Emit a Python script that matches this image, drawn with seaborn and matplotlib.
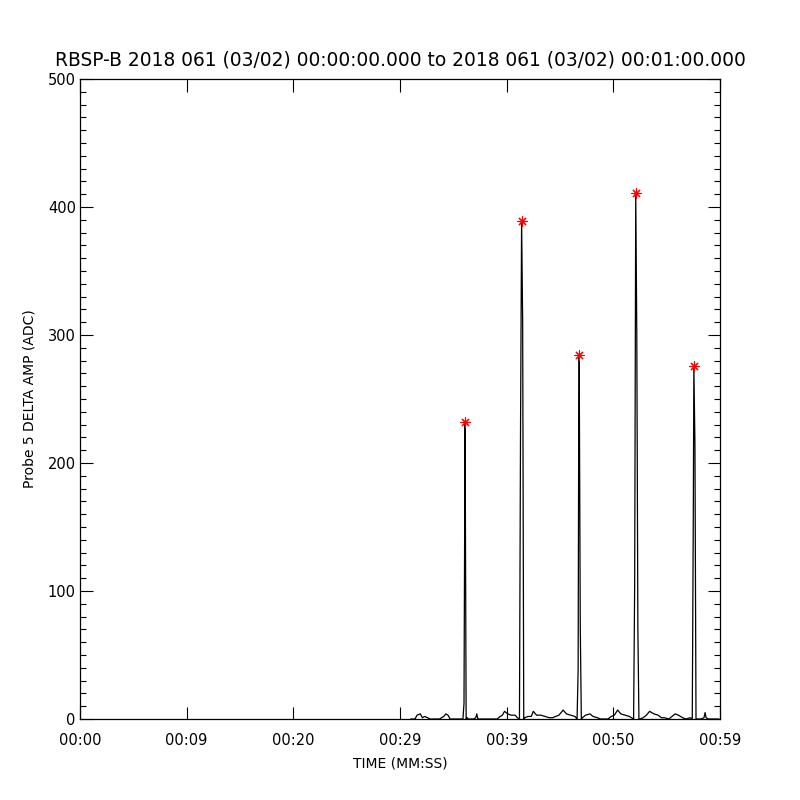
import matplotlib
matplotlib.use("Agg")
import matplotlib.pyplot as plt
import matplotlib.ticker as ticker
import numpy as np
import pandas as pd
import seaborn as sns

# seconds after 00:00:00 and delta amplitude (ADC)
time_s = [
    31.0, 31.4, 31.6, 31.9, 32.1, 32.3, 32.6, 32.8,
    33.7, 33.9, 34.1, 34.3, 34.5, 34.7,
    35.9, 36.0, 36.05, 36.1, 36.2, 36.3, 36.4,
    36.9, 37.1, 37.2, 37.3,
    39.1, 39.4, 39.6, 39.8, 40.1, 40.4, 40.8, 41.0, 41.2,
    41.3, 41.4, 41.5, 41.6,
    41.7, 42.0, 42.3, 42.5, 42.8, 43.2, 43.6, 44.0, 44.3, 44.6,
    44.9, 45.3, 45.6, 46.0, 46.4, 46.6,
    46.7, 46.75, 46.8, 46.9, 47.0,
    47.1, 47.4, 47.8, 48.1, 48.5, 48.8,
    49.5, 49.8, 50.1, 50.4, 50.7, 51.1, 51.5, 51.9,
    52.0, 52.1, 52.2, 52.3, 52.4,
    52.5, 52.8, 53.1, 53.4, 53.8, 54.2, 54.5, 54.8, 55.2, 55.5,
    55.8, 56.1, 56.5, 56.8, 57.2, 57.4,
    57.5, 57.55, 57.65, 57.75,
    58.2, 58.5, 58.6, 58.7, 58.9, 59.3, 59.9,
]
amplitude = [
    0, 0, 3, 4, 1, 2, 1, 0,
    0, 1, 2, 4, 3, 0,
    0, 12, 124, 232, 0, 1, 0,
    0, 1, 4, 0,
    0, 2, 3, 6, 4, 3, 3, 1, 0,
    228, 389, 310, 0,
    1, 2, 2, 6, 3, 3, 2, 1, 1, 2,
    3, 7, 4, 3, 2, 0,
    38, 213, 284, 72, 0,
    1, 3, 4, 2, 1, 0,
    0, 2, 3, 7, 4, 3, 2, 0,
    105, 411, 300, 71, 0,
    0, 1, 3, 6, 4, 3, 1, 1, 0, 2,
    4, 3, 1, 0, 1, 0,
    165, 276, 215, 0,
    0, 1, 5, 1, 0, 0, 0,
]

x_ticks = [0, 10, 20, 30, 40, 50, 60]
x_tick_labels = ["00:00", "00:09", "00:20", "00:29", "00:39", "00:50", "00:59"]
title = "RBSP-B 2018 061 (03/02) 00:00:00.000 to 2018 061 (03/02) 00:01:00.000"


def main():
    df = pd.DataFrame({"time": time_s, "amp": amplitude})

    # peaks = local maxima well above the baseline
    a = df["amp"].to_numpy()
    is_peak = np.zeros(len(a), dtype=bool)
    is_peak[1:-1] = (a[1:-1] > a[:-2]) & (a[1:-1] > a[2:]) & (a[1:-1] > 100)
    peaks = df[is_peak]

    sns.set_theme(style="ticks")
    plt.rcParams["font.family"] = ["DejaVu Sans"]
    plt.rcParams["text.color"] = "black"
    plt.rcParams["axes.labelcolor"] = "black"
    plt.rcParams["xtick.color"] = "black"
    plt.rcParams["ytick.color"] = "black"

    fig = plt.figure(figsize=(8, 8), dpi=100)
    ax = fig.add_axes([0.1, 0.10125, 0.8, 0.8])

    sns.lineplot(x="time", y="amp", data=df, ax=ax, estimator=None,
                 sort=False, color="black", linewidth=0.9)
    sns.scatterplot(x="time", y="amp", data=peaks, ax=ax, marker=(8, 2, 0),
                    s=45, color="red", edgecolor="red", linewidth=0.8,
                    zorder=5)

    ax.set_xlim(0, 60)
    ax.set_ylim(0, 500)
    ax.set_xticks(x_ticks)
    ax.set_xticklabels(x_tick_labels)
    ax.yaxis.set_major_locator(ticker.MultipleLocator(100))
    ax.yaxis.set_minor_locator(ticker.MultipleLocator(10))
    ax.tick_params(axis="both", which="major", direction="in", length=9,
                   width=0.8, colors="black", labelsize=10.5,
                   top=True, right=True)
    ax.tick_params(axis="y", which="minor", direction="in", length=4.5,
                   width=0.8, colors="black", left=True, right=True)
    ax.tick_params(axis="x", which="major", pad=10)
    ax.tick_params(axis="y", which="major", pad=3)

    for side in ax.spines.values():
        side.set_visible(True)
        side.set_linewidth(0.9)
        side.set_color("black")

    ax.set_xlabel("TIME (MM:SS)", fontsize=10, labelpad=6, color="black")
    ax.set_ylabel("Probe 5 DELTA AMP (ADC)", fontsize=10, labelpad=8,
                  color="black")
    ax.set_title(title, fontsize=13.4, pad=10, color="black")

    fig.savefig("out.png", dpi=100, facecolor="white")


if __name__ == "__main__":
    main()
